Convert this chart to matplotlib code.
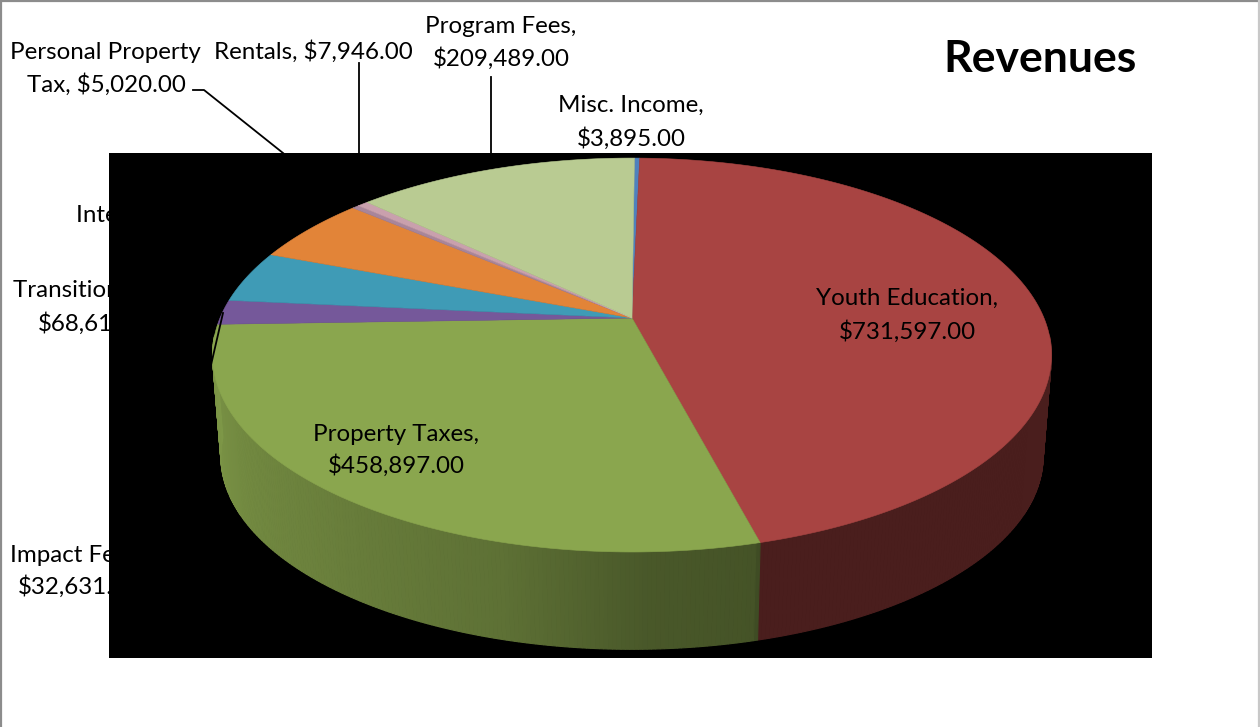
import numpy as np
import matplotlib
matplotlib.use("Agg")
import matplotlib.pyplot as plt
from matplotlib.patches import Polygon, Rectangle

# clockwise from 12 o'clock
categories = ["Misc. Income", "Youth Education", "Property Taxes", "Impact Fees",
              "Transition Fees", "Interest", "Personal Property Tax", "Rentals", "Program Fees"]
values = [3895, 731597, 458897, 32631, 68610, 88000, 5020, 7946, 209489]
top_colors = ["#4f81bd", "#a84442", "#8aa64e", "#75589a", "#3f9bb6", "#e28438",
              "#a8859a", "#c9a0ad", "#b9cb92"]

# perspective of the pie
cx, cy = 632, 318
a, b, k = 412, 190, 0.188
depth, shrink = 102, 0.98
start = 0.4

W, H = 1260, 727
plt.rcParams["font.family"] = "Lato"
fig = plt.figure(figsize=(W / 100, H / 100), dpi=100)
ax = fig.add_axes([0, 0, 1, 1])
ax.set_xlim(0, W)
ax.set_ylim(H, 0)
ax.axis("off")


def rim(deg):
    t = np.radians(deg)
    u, v = np.sin(t), np.cos(t)
    w = 1 + k * v
    return cx + a * u / w, cy - b * v / w


def lower_rim(deg):
    x, y = rim(deg)
    return cx + (x - cx) * shrink, cy + (y - cy) * shrink + depth


def side_shade(deg):
    return np.interp(deg, [95, 165.2, 165.4, 178, 195, 223, 268],
                     [0.44, 0.44, 0.50, 0.53, 0.68, 0.78, 0.92])


def scaled(color, f):
    return tuple(c * f for c in matplotlib.colors.to_rgb(color))


# text first, the black box covers part of it
def label(x, y, s, ha="left", z=2, size=17.4):
    ax.text(x, y, s, ha=ha, va="baseline", fontsize=size, color="black", zorder=z)


label(501, 33, "Program Fees,", "center")
label(501, 66, "$209,489.00", "center")
label(10, 59, "Personal Property")
label(186, 92, "Tax, $5,020.00", "right")
label(214, 59, "Rentals, $7,946.00")
label(631, 112, "Misc. Income,", "center")
label(631, 146, "$3,895.00", "center")
label(76, 222, "Interest, $88,000.00")
label(13, 297, "Transition Fees,")
label(38, 331, "$68,610.00")
label(10, 562, "Impact Fees,")
label(18, 594, "$32,631.00")
ax.text(1040, 72, "Revenues", ha="center", va="baseline", fontsize=32, fontweight="bold", zorder=2)

ax.plot([193, 204, 283], [90, 90, 153], color="black", lw=1.3, zorder=2)
ax.plot([359, 359], [63, 153], color="black", lw=1.3, zorder=2)
ax.plot([491, 491], [77, 153], color="black", lw=1.3, zorder=2)

ax.add_patch(Rectangle((109, 153), 1043, 505, facecolor="black", edgecolor="none", zorder=3))

# slice edges from the values
angles = start + np.cumsum([0] + values) / sum(values) * 360
angles[-1] = 360 + start

# side wall, thin quads so the shade can change along the rim
for i in range(len(values)):
    steps = np.arange(angles[i], angles[i + 1] + 0.5, 0.5)
    steps[-1] = angles[i + 1]
    for d0, d1 in zip(steps[:-1], steps[1:]):
        if d0 < 95 or d1 > 265:
            continue
        quad = [rim(d0), rim(d1), lower_rim(d1), lower_rim(d0)]
        c = scaled(top_colors[i], side_shade(d0))
        ax.add_patch(Polygon(quad, facecolor=c, edgecolor=c, lw=0.8, zorder=4))

# top face
for i in range(len(values)):
    steps = np.linspace(angles[i], angles[i + 1], 200)
    pts = [(cx, cy)] + [rim(d) for d in steps]
    ax.add_patch(Polygon(pts, facecolor=top_colors[i], edgecolor=top_colors[i], lw=0.4, zorder=5))

label(907, 305, "Youth Education,", "center", 6)
label(907, 339, "$731,597.00", "center", 6)
label(396, 441, "Property Taxes,", "center", 6)
label(396, 473, "$458,897.00", "center", 6)

ax.plot([223, 211], [313, 365], color="black", lw=1.3, zorder=6)

# picture frame, no line along the bottom
ax.plot([1, 1], [0, H], color="#8c8c8c", lw=1.6, zorder=7)
ax.plot([0, W], [1, 1], color="#8c8c8c", lw=1.6, zorder=7)
ax.plot([W - 1, W - 1], [0, H], color="#c8c8c8", lw=1.6, zorder=7)

fig.savefig("out.png", dpi=100)
